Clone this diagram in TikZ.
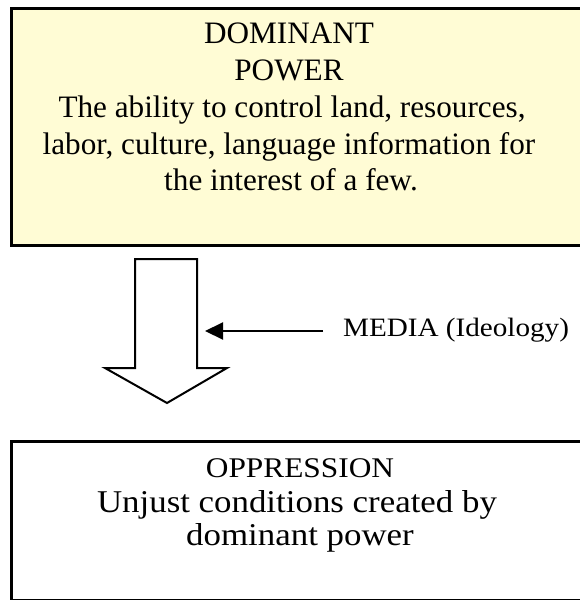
\documentclass[tikz,border=0pt]{standalone}
\usepackage{fontspec}
\setmainfont{Liberation Serif}
\newfontfamily\palfont[FakeStretch=1.1]{Liberation Serif}
\usetikzlibrary{arrows.meta}
\definecolor{boxyellow}{RGB}{255,252,213}
\tikzset{
  x=1pt, y=-1pt,
  panel/.style={draw=black, line width=2.5pt, inner sep=0pt, anchor=north west},
  topline/.style={anchor=base, inner sep=0pt, font=\fontsize{31.2}{36}\selectfont},
  botline/.style={anchor=base, inner sep=0pt, font=\palfont\fontsize{31.7}{34}\selectfont},
  blockarrow/.style={draw=black, line width=2pt, fill=white, line join=miter},
  pointer/.style={draw=black, line width=2pt, -{Triangle[length=18pt,width=17pt]}}
}
\begin{document}
\begin{tikzpicture}
\useasboundingbox (0,0) rectangle (579,600);
% top panel
\node[panel, fill=boxyellow, minimum width=600pt, minimum height=237pt] (power) at (10,7) {};
\node[topline] (p1) at (289,43) {DOMINANT};
\node[topline] (p2) at (289,80) {POWER};
\node[topline] (p3) at (292,117) {The ability to control land, resources,};
\node[topline] (p4) at (289,154) {labor, culture, language information for};
\node[topline] (p5) at (291,190) {the interest of a few.};
% bottom panel
\node[panel, minimum width=600pt, minimum height=159pt] (oppr) at (10,440) {};
\node[botline, font=\palfont\fontsize{28.5}{34}\selectfont] (o1) at (300,477) {OPPRESSION};
\node[botline] (o2) at (297,512) {Unjust conditions created by};
\node[botline] (o3) at (300,545) {dominant power};
% block arrow
\draw[blockarrow] (135,259) -- (197,259) -- (197,368) -- (227,368) -- (167,403)
  -- (105,368) -- (135,368) -- cycle;
% media label and pointer
\node[anchor=base west, inner sep=0pt, font=\palfont\fontsize{26.5}{30}\selectfont] (media) at (343,336) {MEDIA (Ideology)};
\coordinate (mtip) at (205,331);
\draw[pointer, shorten <=20pt] (media.west |- mtip) -- (mtip);
\end{tikzpicture}
\end{document}
